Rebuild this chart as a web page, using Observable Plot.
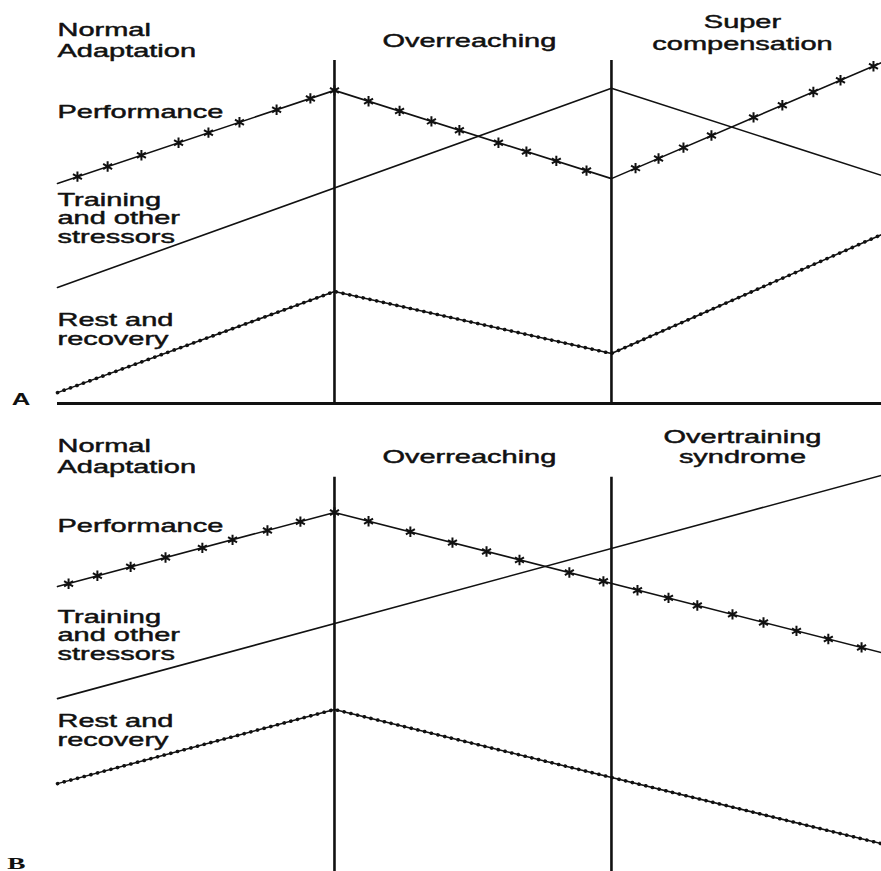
<!DOCTYPE html>
<html><head><meta charset="utf-8">
<script src="https://cdn.jsdelivr.net/npm/d3@7"></script>
<script src="https://cdn.jsdelivr.net/npm/@observablehq/plot@0.6"></script>
<style>
body{margin:0;background:#fff;}
#chart{width:881px;}
#chart svg{display:block;overflow:visible;}
</style></head><body><div id="chart"></div>
<script>
// ---- shared time axis (phase boundaries) ----
const phaseBounds = [10, 20];
const tEnd = 29.75;

// ---- Panel A : normal adaptation -> overreaching -> super compensation ----
const perfA_t  = [0, 10, 20, 29.75];
const perfA_v  = [54.6, 77.7, 55.8, 84.6];
const trainA_t = [0, 20, 29.75];
const trainA_v = [28.8, 78.2, 56.6];
const restA_t  = [0, 10, 20, 29.75];
const restA_v  = [2.7, 27.8, 12.4, 41.9];
const starsA_t = [0.72, 1.81, 3.03, 4.37, 5.45, 6.57, 7.91, 9.13, 10,
                  11.23, 12.35, 13.50, 14.51, 15.92, 16.93, 18.01, 19.10,
                  20.87, 21.70, 22.60, 23.61, 25.13, 26.17, 27.29, 28.27, 29.46];
const starsA_v = [56.3, 58.8, 61.6, 64.7, 67.2, 69.8, 72.9, 75.7, 77.7,
                  75.0, 72.6, 70.0, 67.8, 64.7, 62.5, 60.2, 57.8,
                  58.4, 60.8, 63.5, 66.5, 71.0, 74.0, 77.3, 80.2, 83.7];

// ---- Panel B : normal adaptation -> overreaching -> overtraining syndrome ----
const perfB_t  = [0, 10, 29.75];
const perfB_v  = [57.8, 76.2, 41.4];
const trainB_t = [0, 29.75];
const trainB_v = [30.0, 85.4];
const restB_t  = [0, 10, 29.75];
const restB_v  = [8.9, 27.3, -6.0];
const starsB_t = [0.40, 1.44, 2.64, 3.90, 5.23, 6.32, 7.58, 8.77, 10,
                  11.23, 12.74, 14.26, 15.49, 16.68, 18.48, 19.71,
                  20.94, 22.06, 23.10, 24.37, 25.49, 26.68, 27.83, 29.03];
const starsB_v = [58.5, 60.5, 62.7, 65.0, 67.4, 69.4, 71.7, 73.9, 76.2,
                  74.0, 71.4, 68.7, 66.5, 64.4, 61.3, 59.1,
                  56.9, 55.0, 53.1, 50.9, 48.9, 46.8, 44.8, 42.7];

// ---- text (one entry per label block, lines in order) ----
const sideLabelsA  = [["Normal", "Adaptation"], ["Performance"], ["Training", "and other", "stressors"], ["Rest and", "recovery"]];
const sideLabelsB  = [["Normal", "Adaptation"], ["Performance"], ["Training", "and other", "stressors"], ["Rest and", "recovery"]];
const phaseLabelsA = [["Overreaching"], ["Super", "compensation"]];
const phaseLabelsB = [["Overreaching"], ["Overtraining", "syndrome"]];
const panelLetters = ["A", "B"];

// label layout: baseline of each block's last line (panel level units) and line spacing (px)
const sideA_v   = [85.86, 70.72, 39.95, 14.64];
const sideA_gap = [21, 19, 18.5, 19];
const sideB_v   = [85.86, 71.46, 39.70, 18.36];
const sideB_gap = [21, 19, 18.5, 18.5];
const phaseA_t  = [14.87, 24.73];
const phaseA_v  = [88.34, 87.84];
const phaseA_gap = [19, 22];
const phaseB_t  = [14.87, 24.73];
const phaseB_v  = [88.34, 88.34];
const phaseB_gap = [19, 20];

const zip = (ts, vs) => ts.map((t, i) => ({t, v: vs[i]}));

const INK = "#111";
const FONT_PX = 18;
const STRETCH = 1.61;

function labelMarks(blocks, ts, vs, gaps, anchor) {
  return blocks.map((lines, i) => Plot.text([{s: lines.join("\n"), t: ts[i], v: vs[i]}], {
    x: "t", y: "v", text: "s", textAnchor: anchor, lineAnchor: "bottom",
    lineHeight: gaps[i] / FONT_PX, fill: INK, stroke: INK, strokeWidth: 0.45
  }));
}

function panel({height, yDomain, marginBottom, perf, stars, train, rest, ruleTop, ruleBottom, baseline,
                side, phase, letter, letterStyle}) {
  const marks = [];
  if (baseline) marks.push(Plot.ruleY([{v: 0, t1: 0, t2: tEnd}], {y: "v", x1: "t1", x2: "t2", stroke: INK, strokeWidth: 3}));
  marks.push(
    Plot.ruleX(phaseBounds.map(t => ({t, v1: ruleBottom, v2: ruleTop})), {x: "t", y1: "v1", y2: "v2", stroke: INK, strokeWidth: 2.6}),
    Plot.line(train, {x: "t", y: "v", stroke: INK, strokeWidth: 1.6}),
    Plot.line(perf, {x: "t", y: "v", stroke: INK, strokeWidth: 1.6}),
    Plot.dot(stars, {x: "t", y: "v", symbol: "asterisk", r: 4.9, stroke: INK, strokeWidth: 2}),
    Plot.line(rest, {x: "t", y: "v", stroke: INK, strokeWidth: 1.5}),
    Plot.line(rest, {x: "t", y: "v", stroke: INK, strokeWidth: 3.6, strokeDasharray: "0.1 6.8", strokeLinecap: "round"}),
    ...labelMarks(side.blocks, side.blocks.map(() => 0), side.v, side.gap, "start"),
    ...labelMarks(phase.blocks, phase.t, phase.v, phase.gap, "middle"),
    Plot.text([letter], {x: "t", y: "v", text: "s", textAnchor: "start", lineAnchor: "bottom", fill: INK,
      fontWeight: "bold", fontSize: letterStyle.size, fontFamily: letterStyle.family, ariaLabel: "panel-letter"})
  );
  const svg = Plot.plot({
    width: 881, height, marginLeft: 57, marginRight: 0, marginTop: 0, marginBottom,
    x: {domain: [0, tEnd], axis: null},
    y: {domain: yDomain, axis: null},
    style: {fontFamily: "'Liberation Sans', Arial, Helvetica, sans-serif", fontSize: FONT_PX + "px", background: "white", overflow: "visible"},
    marks
  });
  // horizontal stretching of the lettering, as in the (widened) reference drawing
  const stretchText = (sel, s) => svg.querySelectorAll(sel).forEach(el => {
    const tr = el.getAttribute("transform");
    if (tr) el.setAttribute("transform", tr + ` scale(${s},1)`);
    else {
      const x = +el.getAttribute("x") || 0, y = +el.getAttribute("y") || 0;
      el.setAttribute("transform", `translate(${x},${y}) scale(${s},1) translate(${-x},${-y})`);
    }
  });
  stretchText('g[aria-label="text"] text', STRETCH);
  if (letterStyle.stretch !== 1) stretchText('g[aria-label="panel-letter"] text', letterStyle.stretch);
  return svg;
}

const chart = document.getElementById("chart");
chart.append(panel({
  height: 416, yDomain: [0, 100], marginBottom: 13,
  perf: zip(perfA_t, perfA_v), stars: zip(starsA_t, starsA_v),
  train: zip(trainA_t, trainA_v), rest: zip(restA_t, restA_v),
  ruleTop: 85.1, ruleBottom: 0, baseline: true,
  side: {blocks: sideLabelsA, v: sideA_v, gap: sideA_gap},
  phase: {blocks: phaseLabelsA, t: phaseA_t, v: phaseA_v, gap: phaseA_gap},
  letter: {s: panelLetters[0], t: -1.65, v: -0.25},
  letterStyle: {size: "16px", family: "'Liberation Sans', Arial, sans-serif", stretch: 1.7}
}));
chart.append(panel({
  height: 455, yDomain: [-12.9, 100], marginBottom: 0,
  perf: zip(perfB_t, perfB_v), stars: zip(starsB_t, starsB_v),
  train: zip(trainB_t, trainB_v), rest: zip(restB_t, restB_v),
  ruleTop: 84.9, ruleBottom: -12.9, baseline: false,
  side: {blocks: sideLabelsB, v: sideB_v, gap: sideB_gap},
  phase: {blocks: phaseLabelsB, t: phaseB_t, v: phaseB_v, gap: phaseB_gap},
  letter: {s: panelLetters[1], t: -1.81, v: -12.2},
  letterStyle: {size: "17px", family: "'Liberation Serif', 'Times New Roman', serif", stretch: 1}
}));
</script></body></html>
